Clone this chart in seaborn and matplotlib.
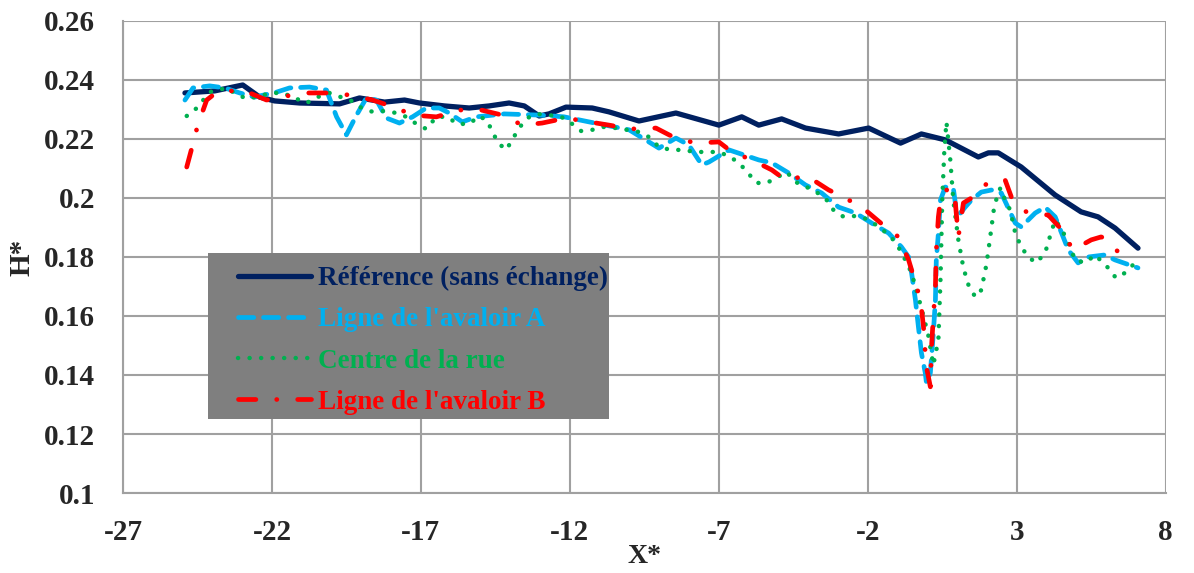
import matplotlib
matplotlib.use("Agg")
import matplotlib.pyplot as plt
from matplotlib.patches import Rectangle
import seaborn as sns
import pandas as pd

# --- data -----------------------------------------------------------------
x_ref = [-24.92, -23.92, -22.98, -22.41, -21.91, -21.07, -19.73, -19.06, -18.22,
         -17.55, -17.05, -16.21, -15.38, -14.71, -14.04, -13.53, -13.03, -12.70,
         -12.13, -11.25, -10.69, -9.68, -8.44, -7.00, -6.23, -5.66, -4.89, -4.09,
         -2.98, -1.97, -0.90, -0.20, 0.60, 1.71, 2.05, 2.38, 3.15, 4.29, 5.16,
         5.73, 6.30, 7.07]
h_ref = [0.2356, 0.2363, 0.2383, 0.2342, 0.2329, 0.2322, 0.2319, 0.2339, 0.2325,
         0.2332, 0.2322, 0.2312, 0.2305, 0.2312, 0.2322, 0.2312, 0.2278, 0.2285,
         0.2308, 0.2305, 0.2292, 0.2261, 0.2288, 0.2247, 0.2275, 0.2247, 0.2268,
         0.2237, 0.2217, 0.2237, 0.2186, 0.2217, 0.2197, 0.2139, 0.2153, 0.2153,
         0.2105, 0.2010, 0.1953, 0.1936, 0.1898, 0.1830]

x_a = [-24.92, -24.65, -24.09, -23.58, -23.08, -22.58, -21.84, -21.41, -20.74,
       -20.17, -19.83, -19.50, -19.16, -18.83, -18.49, -18.16, -17.72, -17.28,
       -16.82, -16.38, -16.05, -15.61, -15.14, -14.20, -13.03, -12.19, -11.36,
       -10.01, -9.01, -8.44, -8.01, -7.57, -7.33, -6.66, -5.66, -5.22, -4.66,
       -4.09, -3.55, -2.98, -2.41, -1.87, -1.30, -0.87, -0.63, -0.53, -0.40,
       -0.30, -0.20, -0.07, -0.03, 0.10, 0.20, 0.27, 0.30, 0.37, 0.44, 0.60,
       0.87, 0.97, 1.11, 1.27, 1.48, 1.81, 2.15, 2.48, 2.95, 3.15, 3.62, 3.95,
       4.29, 4.73, 5.06, 5.40, 5.96, 6.30, 7.07]
h_a = [0.2332, 0.2373, 0.2380, 0.2373, 0.2356, 0.2342, 0.2359, 0.2373, 0.2376,
       0.2366, 0.2275, 0.2214, 0.2281, 0.2339, 0.2332, 0.2271, 0.2254, 0.2275,
       0.2305, 0.2305, 0.2288, 0.2258, 0.2275, 0.2285, 0.2281, 0.2275, 0.2258,
       0.2231, 0.2169, 0.2203, 0.2180, 0.2112, 0.2122, 0.2163, 0.2129, 0.2119,
       0.2085, 0.2044, 0.2017, 0.1969, 0.1949, 0.1915, 0.1881, 0.1834, 0.1800,
       0.1746, 0.1654, 0.1563, 0.1475, 0.1407, 0.1373, 0.1407, 0.1542, 0.1654,
       0.1790, 0.1881, 0.1993, 0.2037, 0.2034, 0.1959, 0.1949, 0.1969, 0.1993,
       0.2020, 0.2027, 0.2017, 0.1915, 0.1902, 0.1949, 0.1969, 0.1936, 0.1824,
       0.1780, 0.1800, 0.1807, 0.1790, 0.1763]

x_c = [-24.86, -24.52, -24.09, -23.52, -23.15, -22.81, -22.41, -22.01, -21.64,
       -21.24, -20.84, -20.47, -20.07, -19.33, -18.99, -18.62, -18.22, -17.82,
       -17.49, -17.15, -16.82, -16.48, -16.11, -15.78, -15.38, -15.04, -14.77,
       -14.60, -14.40, -14.14, -13.93, -13.73, -13.43, -13.10, -12.70, -12.29,
       -11.96, -11.62, -11.25, -10.85, -10.45, -10.08, -9.68, -9.35, -9.01,
       -8.61, -8.24, -7.77, -7.40, -7.00, -6.60, -6.26, -5.99, -5.73, -5.39,
       -4.72, -4.42, -4.05, -3.72, -3.38, -3.15, -2.81, -2.41, -2.04, -1.71,
       -1.37, -1.14, -0.87, -0.53, -0.20, 0.03, 0.20, 0.37, 0.44, 0.50, 0.57,
       0.64, 0.77, 0.87, 1.04, 1.21, 1.38, 1.61, 1.81, 1.98, 2.11, 2.25, 2.45,
       2.61, 2.78, 2.95, 3.15, 3.39, 3.65, 3.95, 4.16, 4.29, 4.49, 4.73, 4.96,
       5.30, 5.63, 6.07, 6.33, 6.63, 6.97]
h_c = [0.2278, 0.2305, 0.2359, 0.2373, 0.2349, 0.2336, 0.2346, 0.2356, 0.2356,
       0.2339, 0.2322, 0.2342, 0.2356, 0.2329, 0.2305, 0.2292, 0.2295, 0.2288,
       0.2275, 0.2251, 0.2234, 0.2275, 0.2275, 0.2251, 0.2251, 0.2278, 0.2261,
       0.2224, 0.2186, 0.2163, 0.2197, 0.2234, 0.2271, 0.2285, 0.2281, 0.2275,
       0.2254, 0.2227, 0.2231, 0.2241, 0.2237, 0.2231, 0.2224, 0.2207, 0.2173,
       0.2163, 0.2163, 0.2156, 0.2156, 0.2156, 0.2139, 0.2112, 0.2081, 0.2051,
       0.2051, 0.2088, 0.2054, 0.2037, 0.2020, 0.1993, 0.1959, 0.1936, 0.1939,
       0.1929, 0.1908, 0.1881, 0.1858, 0.1817, 0.1746, 0.1627, 0.1535, 0.1434,
       0.1519, 0.1722, 0.1993, 0.2163, 0.2258, 0.2129, 0.1993, 0.1858, 0.1763,
       0.1705, 0.1664, 0.1688, 0.1773, 0.1868, 0.1976, 0.2034, 0.1993, 0.1959,
       0.1881, 0.1834, 0.1800, 0.1780, 0.1813, 0.1885, 0.1925, 0.1898, 0.1848,
       0.1790, 0.1780, 0.1807, 0.1763, 0.1729, 0.1746, 0.1780]

x_b = [-24.86, -24.69, -24.49, -24.19, -23.85, -22.98, -22.18, -21.74, -20.84,
       -20.07, -19.40, -18.62, -17.82, -17.28, -16.48, -15.71, -14.97, -14.27,
       -13.60, -12.93, -12.13, -11.36, -10.69, -9.95, -9.11, -8.67, -8.44,
       -7.77, -7.00, -6.56, -5.89, -5.22, -4.76, -4.05, -3.31, -2.75, -2.08,
       -1.41, -0.97, -0.63, -0.40, -0.23, -0.13, -0.07, -0.03, 0.10, 0.14,
       0.20, 0.27, 0.30, 0.37, 0.44, 0.71, 0.94, 1.04, 1.21, 1.48, 2.05, 2.61,
       2.82, 3.32, 4.06, 4.46, 4.89, 5.50, 5.83, 5.96, 6.50]
h_b = [0.2105, 0.2169, 0.2247, 0.2332, 0.2359, 0.2366, 0.2332, 0.2342, 0.2356,
       0.2356, 0.2349, 0.2332, 0.2305, 0.2281, 0.2275, 0.2298, 0.2298, 0.2281,
       0.2247, 0.2254, 0.2271, 0.2258, 0.2247, 0.2234, 0.2237, 0.2214, 0.2203,
       0.2186, 0.2190, 0.2156, 0.2129, 0.2095, 0.2061, 0.2075, 0.2027, 0.2000,
       0.1959, 0.1902, 0.1868, 0.1790, 0.1712, 0.1654, 0.1563, 0.1475, 0.1427,
       0.1360, 0.1495, 0.1597, 0.1698, 0.1824, 0.1936, 0.1993, 0.2037, 0.1983,
       0.1868, 0.1983, 0.2000, 0.2054, 0.2061, 0.2003, 0.1953, 0.1942, 0.1898,
       0.1824, 0.1858, 0.1868, 0.1864, 0.1807]

labels = ["Référence (sans échange)", "Ligne de l'avaloir A",
          "Centre de la rue", "Ligne de l'avaloir B"]
colors = ["#002060", "#00B0F0", "#00B050", "#FF0000"]

x_ticks = [-27, -22, -17, -12, -7, -2, 3, 8]
x_tick_labels = ["-27", "-22", "-17", "-12", "-7", "-2", "3", "8"]
y_ticks = [0.10, 0.12, 0.14, 0.16, 0.18, 0.20, 0.22, 0.24, 0.26]
y_tick_labels = ["0.1", "0.12", "0.14", "0.16", "0.18", "0.2", "0.22", "0.24", "0.26"]

# --- style ----------------------------------------------------------------
sns.set_theme(style="white")
plt.rcParams["font.family"] = ["Liberation Serif", "DejaVu Serif"]
plt.rcParams["font.weight"] = "bold"
plt.rcParams["lines.scale_dashes"] = False

fig = plt.figure(figsize=(11.94, 5.73), dpi=100)
ax = fig.add_axes([0.103, 0.1396, 0.8733, 0.8238])

styles = [
    dict(linestyle="-", linewidth=3.8, solid_capstyle="round"),
    dict(linestyle=(0, (11.0, 7.0)), linewidth=3.4, dash_capstyle="round"),
    dict(linestyle=(0, (0.1, 8.2)), linewidth=3.2, dash_capstyle="round"),
    dict(linestyle=(0, (12.5, 15.0, 0.1, 15.0)), linewidth=3.4, dash_capstyle="round"),
]

for xs, hs, lab, col, st in zip([x_ref, x_a, x_c, x_b], [h_ref, h_a, h_c, h_b],
                                labels, colors, styles):
    df = pd.DataFrame({"X": xs, "H": hs})
    sns.lineplot(data=df, x="X", y="H", ax=ax, color=col, label=lab,
                 sort=False, estimator=None, legend=False, zorder=3, **st)

ax.set_xlim(-27, 8)
ax.set_ylim(0.10, 0.26)
ax.set_xticks(x_ticks)
ax.set_xticklabels(x_tick_labels)
ax.set_yticks(y_ticks)
ax.set_yticklabels(y_tick_labels)
ax.tick_params(axis="both", length=0, labelsize=21)
ax.tick_params(axis="y", pad=20)
ax.tick_params(axis="x", pad=19)
for t in ax.get_xticklabels() + ax.get_yticklabels():
    t.set_fontweight("bold")

ax.grid(True, color="#a0a0a0", linewidth=1.5)
ax.set_axisbelow(True)
for side in ["top", "right"]:
    ax.spines[side].set_visible(False)
for side in ["left", "bottom"]:
    ax.spines[side].set_color("#a0a0a0")
    ax.spines[side].set_linewidth(1.5)

ax.set_xlabel("X*", fontsize=20, fontweight="bold")
ax.xaxis.set_label_coords(0.5, -0.1085)
ax.set_ylabel("H*", fontsize=21, fontweight="bold")
ax.yaxis.set_label_coords(-0.0835, 0.5)

# legend on a grey panel
panel = Rectangle((0.0815, 0.1568), 0.3845, 0.3517, transform=ax.transAxes,
                  facecolor="#7f7f7f", edgecolor="none", zorder=4)
ax.add_patch(panel)
leg = ax.legend(loc="upper left", bbox_to_anchor=(0.1103, 0.481),
                frameon=False, borderpad=0, borderaxespad=0,
                handlelength=2.7, handletextpad=0.25, labelspacing=0.6,
                prop={"family": "Liberation Serif", "weight": "bold", "size": 19.5},
                labelcolor="linecolor")
leg.set_zorder(5)

fig.savefig("out.png", dpi=100)
